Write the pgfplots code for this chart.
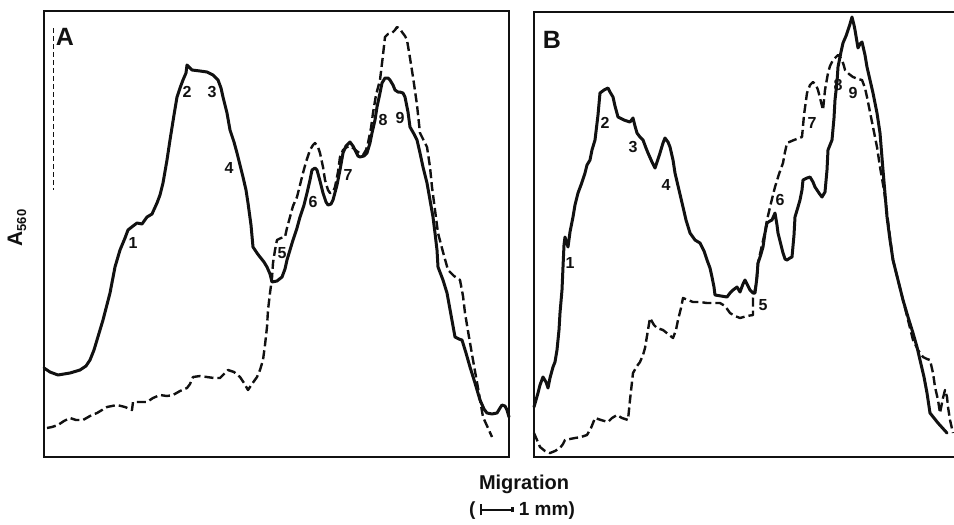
\documentclass[border=0pt]{standalone}
\usepackage{fontspec}
\setmainfont{Liberation Sans}
\usepackage{pgfplots}
\pgfplotsset{compat=1.18}
\definecolor{ink}{HTML}{111111}
\tikzset{
  trace/.style={draw=ink, line width=3pt, line join=round, line cap=round},
  dtrace/.style={draw=ink, line width=2.4pt, dash pattern=on 9pt off 4pt, line join=round},
  peak/.style={font=\fontsize{16}{18}\selectfont\bfseries, text=ink, inner sep=0pt},
  panel/.style={font=\fontsize{25}{28}\selectfont\bfseries, text=ink, inner sep=0pt}
}
\pgfplotsset{
  scan/.style={
    scale only axis, y dir=reverse, ticks=none, clip=false,
    axis line style={draw=ink, line width=2pt}
  }
}
\begin{document}
\begin{tikzpicture}
\useasboundingbox (0,0) rectangle (954pt,-525pt);

% panel A
\begin{axis}[scan, xmin=44, xmax=509, ymin=11, ymax=457,
  width=465pt, height=446pt, at={(276.5pt,-234pt)}, anchor=center]
  \draw[ink, line width=0.9pt, dash pattern=on 5pt off 3pt] (axis cs:53,28) -- (axis cs:53,190);
  \addplot[trace] coordinates {
    (44,368) (50,372) (58,375) (70,373) (80,370) (86,366) (90,360) (94,350) (97,340)
    (103,320) (110,293) (115,267) (120,250) (125,238) (128,230) (133,226) (137,223)
    (142,224) (147,217) (152,214) (157,203) (160,195) (163,183) (167,160) (170,140)
    (174,115) (177,97) (180,88) (183,80) (186,73) (187,65) (190,68) (192,70) (200,71)
    (207,72) (213,75) (218,80) (221,88) (223,97) (227,113) (230,130) (234,142) (237,153)
    (240,165) (243,177) (246,190) (248,203) (251,225) (253,247) (257,253) (260,257)
    (264,262) (267,267) (270,274) (272,282) (277,281) (282,277) (285,269) (287,260)
    (290,250) (293,240) (297,228) (300,217) (304,205) (307,193) (310,180) (312,170)
    (315,168) (317,170) (320,181) (323,193) (326,202) (328,205) (331,204) (333,200)
    (337,185) (340,170) (343,153) (346,146) (350,142) (353,146) (355,150) (358,156)
    (360,157) (364,156) (367,153) (370,143) (372,133) (375,120) (377,107) (380,93)
    (382,83) (385,78) (388,78) (390,80) (393,85) (395,90) (398,92) (400,92) (403,93)
    (405,97) (408,112) (410,127) (414,134) (417,140) (420,153) (423,167) (427,183)
    (430,200) (433,217) (435,233) (437,250) (438,267) (443,280) (447,293) (451,315)
    (455,337) (459,339) (462,340) (466,353) (470,367) (475,383) (480,400) (484,409)
    (487,413) (492,414) (497,413) (500,408) (502,405) (505,406) (507,410) (509,417)
  };
  \addplot[dtrace] coordinates {
    (47,428) (52,427) (58,425) (64,421) (70,418) (76,420) (83,420) (90,416) (97,413)
    (102,410) (107,407) (112,406) (117,405) (125,407) (132,410) (133,402) (140,402)
    (147,402) (153,398) (160,395) (167,396) (173,395) (180,391) (187,388) (190,384)
    (193,377) (200,376) (207,377) (214,378) (220,378) (224,374) (228,370) (234,372)
    (240,377) (244,383) (248,390) (252,384) (257,377) (260,370) (263,360) (265,345)
    (267,327) (268,310) (270,293) (272,278) (273,263) (275,250) (277,240) (281,238)
    (285,237) (287,228) (290,217) (293,206) (297,197) (300,185) (303,173) (306,162)
    (310,150) (313,145) (315,143) (318,147) (320,153) (323,167) (325,180) (328,190)
    (330,193) (333,192) (335,187) (338,172) (340,157) (343,150) (347,147) (350,146)
    (353,148) (358,152) (363,155) (366,150) (368,143) (371,128) (373,113) (376,95)
    (380,80) (383,55) (385,37) (388,34) (392,33) (395,30) (397,27) (400,29) (402,32)
    (405,36) (407,40) (410,58) (413,77) (417,105) (420,133) (424,141) (427,147)
    (430,167) (432,187) (435,210) (438,233) (443,252) (448,270) (454,276) (460,280)
    (463,296) (465,313) (469,337) (473,360) (478,388) (483,417) (488,428) (492,437)
  };
  \node[panel] at (axis cs:65,37) {A};
  \node[peak] at (axis cs:133,243) {1};
  \node[peak] at (axis cs:187,92) {2};
  \node[peak] at (axis cs:212,92) {3};
  \node[peak] at (axis cs:229,168) {4};
  \node[peak] at (axis cs:282,253) {5};
  \node[peak] at (axis cs:313,202) {6};
  \node[peak] at (axis cs:348,175) {7};
  \node[peak] at (axis cs:383,120) {8};
  \node[peak] at (axis cs:400,118) {9};
\end{axis}

% panel B (right edge runs off the page)
\begin{axis}[scan, xmin=534, xmax=954, ymin=12, ymax=457,
  width=420pt, height=445pt, at={(744pt,-234.5pt)}, anchor=center,
  axis line style={draw=none}]
  \draw[ink, line width=2pt] (rel axis cs:1.02,0) -- (rel axis cs:0,0)
    -- (rel axis cs:0,1) -- (rel axis cs:1.02,1);
  \addplot[trace] coordinates {
    (534,407) (536,400) (538,393) (540,385) (543,377) (546,382) (548,388) (550,378)
    (553,367) (555,362) (557,350) (559,330) (560,313) (562,290) (563,267) (564,245)
    (565,237) (567,244) (568,247) (570,232) (573,217) (575,205) (578,193) (581,185)
    (585,173) (587,165) (590,160) (592,150) (595,140) (598,115) (600,93) (604,90)
    (608,88) (610,92) (613,97) (615,106) (618,117) (624,120) (630,122) (633,118)
    (635,126) (637,133) (640,137) (643,140) (646,148) (648,153) (652,162) (655,168)
    (657,162) (660,153) (663,143) (665,138) (668,142) (670,147) (673,160) (675,173)
    (679,190) (683,207) (686,220) (690,233) (695,240) (700,243) (704,251) (707,260)
    (710,268) (712,277) (714,287) (715,295) (721,296) (727,297) (730,293) (733,290)
    (737,287) (740,292) (743,284) (745,280) (748,286) (750,290) (753,293) (755,293)
    (757,277) (758,263) (761,254) (763,247) (765,233) (767,223) (770,221) (772,220)
    (775,213) (777,225) (778,233) (781,245) (783,253) (785,259) (787,260) (790,258)
    (792,257) (794,235) (795,217) (798,207) (800,200) (802,190) (803,180) (807,178)
    (810,177) (813,182) (815,187) (819,193) (822,197) (825,192) (827,170) (828,150)
    (830,145) (832,140) (834,118) (835,100) (837,82) (838,67) (841,52) (843,43)
    (846,36) (848,30) (850,24) (852,17) (854,25) (855,30) (857,42) (858,48) (860,44)
    (862,42) (865,55) (867,67) (870,80) (873,93) (877,113) (880,133) (883,170)
    (887,217) (890,240) (893,260) (898,280) (903,300) (908,317) (913,333) (917,347)
    (920,360) (924,377) (927,393) (930,413) (938,423) (947,433)
  };
  \addplot[dtrace] coordinates {
    (534,433) (537,440) (540,447) (545,451) (550,453) (555,451) (560,448) (563,444)
    (565,440) (570,439) (575,438) (581,437) (587,435) (591,428) (595,418) (601,420)
    (608,422) (612,418) (617,415) (622,418) (628,420) (630,400) (633,373) (637,366)
    (640,362) (643,355) (645,348) (648,330) (650,318) (654,325) (657,328) (660,329)
    (663,330) (668,334) (673,338) (676,330) (678,320) (681,308) (683,298) (688,300)
    (693,302) (700,302) (707,303) (714,303) (720,303) (725,306) (730,313) (735,316)
    (740,318) (747,316) (753,315) (753,298) (756,285) (758,263) (762,245) (765,232)
    (767,220) (771,203) (775,187) (779,174) (783,163) (785,152) (787,143) (794,140)
    (802,137) (804,115) (807,93) (810,85) (813,82) (816,85) (818,90) (821,102)
    (823,110) (825,90) (828,73) (830,66) (833,60) (836,57) (838,55) (840,57) (842,60)
    (844,66) (845,70) (849,74) (853,77) (858,79) (862,80) (865,88) (867,97) (870,112)
    (873,127) (877,147) (880,167) (884,190) (887,213) (890,237) (893,260) (898,280)
    (903,300) (908,320) (913,340) (918,350) (923,357) (927,359) (930,360) (933,373)
    (935,387) (938,400) (940,413) (943,398) (945,390) (947,397) (948,407) (950,420)
    (953,433)
  };
  \node[panel] at (axis cs:552,40) {B};
  \node[peak] at (axis cs:570,263) {1};
  \node[peak] at (axis cs:605,123) {2};
  \node[peak] at (axis cs:633,147) {3};
  \node[peak] at (axis cs:666,185) {4};
  \node[peak] at (axis cs:763,305) {5};
  \node[peak] at (axis cs:780,200) {6};
  \node[peak] at (axis cs:812,123) {7};
  \node[peak] at (axis cs:838,85) {8};
  \node[peak] at (axis cs:853,93) {9};
\end{axis}

% axis captions
\node[rotate=90, text=ink, inner sep=0pt, font=\fontsize{21}{22}\selectfont\bfseries]
  at (17pt,-228pt) {A\raisebox{-0.35ex}{\fontsize{13}{14}\selectfont 560}};
\node[text=ink, inner sep=0pt, font=\fontsize{20}{22}\selectfont\bfseries]
  at (524pt,-484pt) {Migration};
\node[text=ink, inner sep=0pt, font=\fontsize{19}{22}\selectfont\bfseries]
  at (522pt,-511pt) {(\kern0.25em\rule[0.05ex]{0.12em}{1.1ex}\rule[0.5ex]{1.5em}{0.16ex}\rule[0.35ex]{0.14em}{0.5ex}\ 1 mm)};
\end{tikzpicture}
\end{document}
